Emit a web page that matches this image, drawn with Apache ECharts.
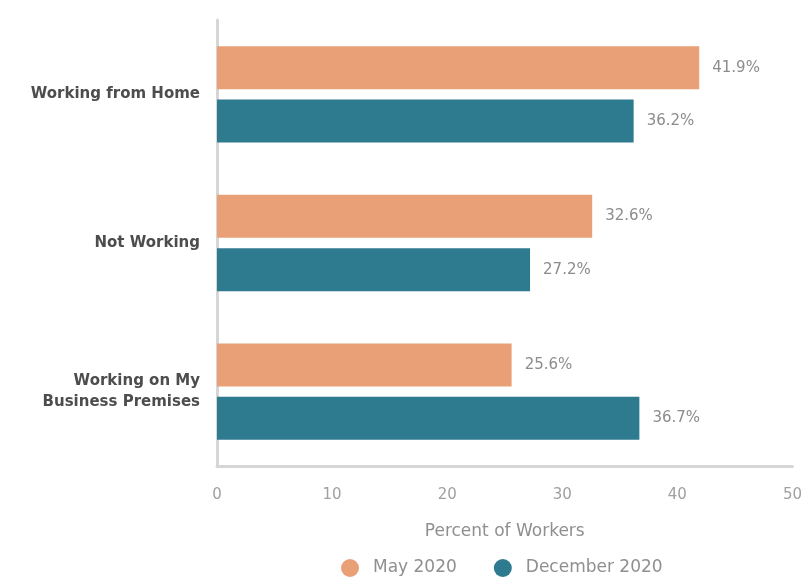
<!DOCTYPE html>
<html>
<head>
<meta charset="utf-8">
<script src="https://cdn.jsdelivr.net/npm/echarts@6/dist/echarts.min.js"></script>
<style>
  html, body { margin: 0; padding: 0; background: #ffffff; }
  #chart { width: 805px; height: 582px; }
</style>
</head>
<body>
<div id="chart"></div>
<script>
// Where people worked, share of workers by period
const categories = ['Working from Home', 'Not Working', 'Working on My\nBusiness Premises'];
const may2020 = [41.9, 32.6, 25.6];
const dec2020 = [36.2, 27.2, 36.7];
const seriesNames = ['May 2020', 'December 2020'];
const xTicks = [0, 10, 20, 30, 40, 50];

const orange = '#E9A077';
const teal = '#2E7A8F';
const fontFamily = '"DejaVu Sans", sans-serif';

const chart = echarts.init(document.getElementById('chart'));

const valueLabel = {
  show: true,
  position: 'right',
  distance: 13,
  color: '#8c8c8c',
  fontSize: 15,
  fontFamily: fontFamily,
  formatter: p => p.value.toFixed(1) + '%'
};

chart.setOption({
  animation: false,
  textStyle: { fontFamily: fontFamily },
  grid: { left: 217, right: 10, top: 20, bottom: 116, containLabel: false },
  legend: {
    bottom: 0,
    left: 336,
    icon: 'circle',
    itemWidth: 18,
    itemHeight: 18,
    itemGap: 37,
    textStyle: { color: '#8f8f8f', fontSize: 17, padding: [0, 0, 0, 9] },
    data: seriesNames
  },
  xAxis: {
    type: 'value',
    min: xTicks[0],
    max: xTicks[xTicks.length - 1],
    interval: 10,
    name: 'Percent of Workers',
    nameLocation: 'middle',
    nameGap: 57,
    nameTextStyle: { color: '#8f8f8f', fontSize: 17 },
    axisLine: { show: true, lineStyle: { color: '#d6d6d6', width: 3 } },
    axisTick: { show: false },
    splitLine: { show: false },
    axisLabel: { color: '#a0a0a0', fontSize: 15, margin: 22 }
  },
  yAxis: {
    type: 'category',
    inverse: true,
    data: categories,
    axisLine: { show: true, lineStyle: { color: '#d6d6d6', width: 3 } },
    axisTick: { show: false },
    axisLabel: {
      color: '#4d4d4d',
      fontSize: 15,
      fontWeight: 'bold',
      margin: 17,
      lineHeight: 21,
      align: 'right'
    }
  },
  series: [
    {
      name: seriesNames[0],
      type: 'bar',
      data: may2020,
      barWidth: 43,
      barGap: '24%',
      itemStyle: { color: orange },
      label: valueLabel
    },
    {
      name: seriesNames[1],
      type: 'bar',
      data: dec2020,
      barWidth: 43,
      itemStyle: { color: teal },
      label: valueLabel
    }
  ]
});
</script>
</body>
</html>
